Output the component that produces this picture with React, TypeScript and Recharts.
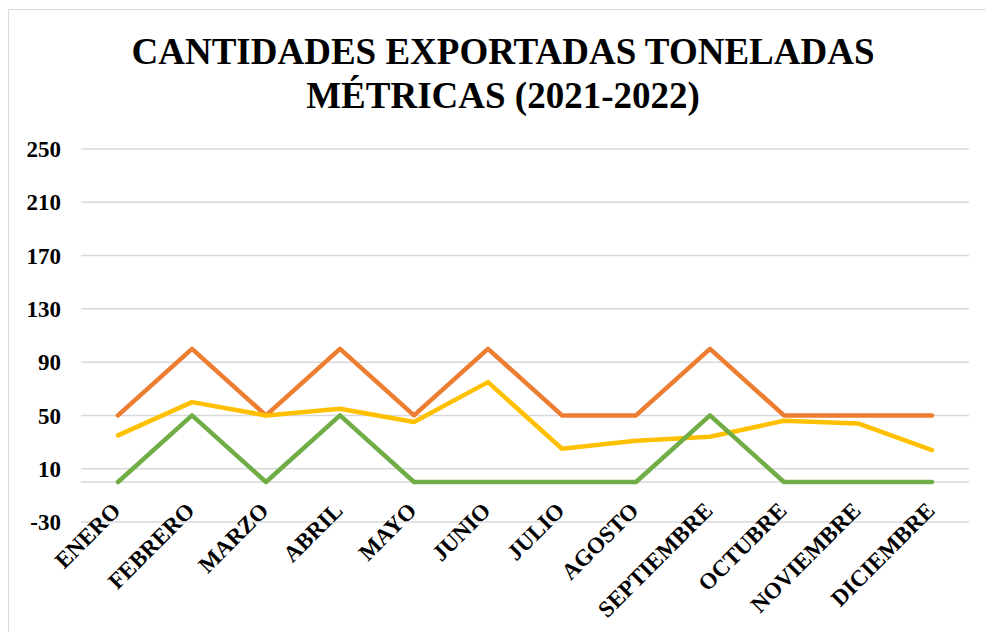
import { LineChart, Line, XAxis, YAxis, CartesianGrid, ReferenceLine } from "recharts";

const months = [
  "ENERO", "FEBRERO", "MARZO", "ABRIL", "MAYO", "JUNIO",
  "JULIO", "AGOSTO", "SEPTIEMBRE", "OCTUBRE", "NOVIEMBRE", "DICIEMBRE",
];
const serieNaranja = [50, 100, 50, 100, 50, 100, 50, 50, 100, 50, 50, 50];
const serieAmarilla = [35, 60, 50, 55, 45, 75, 25, 31, 34, 46, 44, 24];
const serieVerde = [0, 50, 0, 50, 0, 0, 0, 0, 50, 0, 0, 0];
const yTicks = [-30, 10, 50, 90, 130, 170, 210, 250];

const data = months.map((m, i) => ({
  mes: m,
  naranja: serieNaranja[i],
  amarilla: serieAmarilla[i],
  verde: serieVerde[i],
}));

const FONT = '"Liberation Serif", "Times New Roman", serif';

function MonthTick(props: any) {
  const { x, y, payload } = props;
  return (
    <g transform={`translate(${x + 4},${y - 10})`}>
      <text
        textAnchor="end"
        transform="rotate(-45)"
        fontFamily={FONT}
        fontWeight="bold"
        fontSize={23}
        fill="#000"
      >
        {payload.value}
      </text>
    </g>
  );
}

export default function App() {
  return (
    <div
      style={{
        position: "absolute",
        left: 8,
        top: 9,
        width: 990,
        height: 640,
        border: "1px solid #d9d9d9",
        boxSizing: "border-box",
        background: "#fff",
      }}
    >
      <div
        style={{
          position: "absolute",
          top: 20,
          left: 0,
          width: "100%",
          textAlign: "center",
          fontFamily: FONT,
          fontWeight: "bold",
          fontSize: 37,
          lineHeight: "44px",
          color: "#000",
        }}
      >
        CANTIDADES EXPORTADAS TONELADAS
        <br />
        MÉTRICAS (2021-2022)
      </div>
      <LineChart
        width={978}
        height={620}
        data={data}
        margin={{ top: 139, right: 18, bottom: 8, left: 0 }}
      >
        <CartesianGrid vertical={false} stroke="#d9d9d9" strokeWidth={1.5} />
        <ReferenceLine y={0} stroke="#d9d9d9" strokeWidth={1.5} />
        <XAxis
          dataKey="mes"
          axisLine={false}
          tickLine={false}
          tickSize={0}
          tickMargin={0}
          interval={0}
          height={100}
          padding={{ left: 37, right: 37 }}
          tick={<MonthTick />}
        />
        <YAxis
          domain={[-30, 250]}
          ticks={yTicks}
          width={72}
          axisLine={false}
          tickLine={false}
          tickMargin={14}
          tick={{ fontFamily: FONT, fontWeight: "bold", fontSize: 23, fill: "#000" }}
        />
        <Line
          dataKey="naranja"
          stroke="#ED7D31"
          strokeWidth={4.5}
          dot={false}
          strokeLinecap="round"
          strokeLinejoin="round"
          isAnimationActive={false}
        />
        <Line
          dataKey="amarilla"
          stroke="#FFC000"
          strokeWidth={4.5}
          dot={false}
          strokeLinecap="round"
          strokeLinejoin="round"
          isAnimationActive={false}
        />
        <Line
          dataKey="verde"
          stroke="#70AD47"
          strokeWidth={4.5}
          dot={false}
          strokeLinecap="round"
          strokeLinejoin="round"
          isAnimationActive={false}
        />
      </LineChart>
    </div>
  );
}
